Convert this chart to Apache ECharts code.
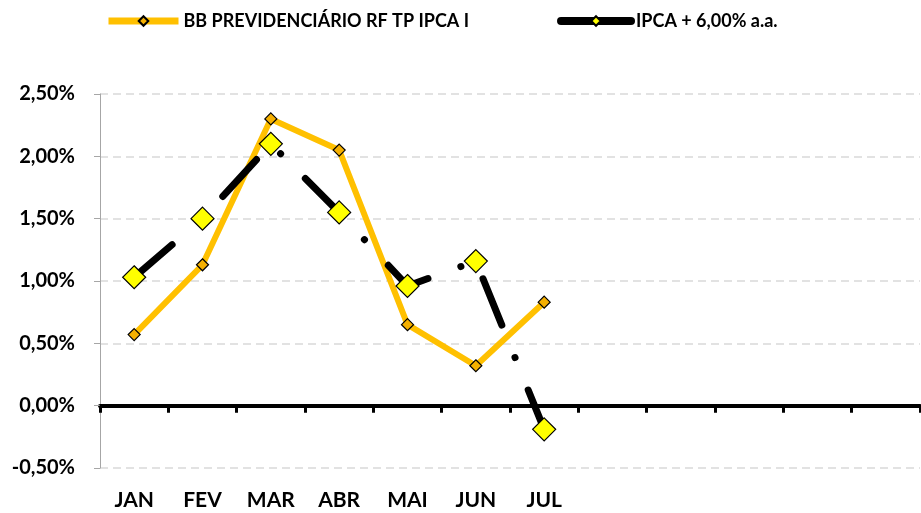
<!DOCTYPE html>
<html>
<head>
<meta charset="utf-8">
<script src="https://cdn.jsdelivr.net/npm/echarts@6/dist/echarts.min.js"></script>
<style>
    html, body { margin: 0; padding: 0; background: #fff; }
    #chart { width: 921px; height: 513px; }
</style>
</head>
<body>
<div id="chart"></div>
<script>
// categorias (12 meses, só os 7 primeiros com rótulo)
var meses = ['JAN', 'FEV', 'MAR', 'ABR', 'MAI', 'JUN', 'JUL', '', '', '', '', ''];
// rentabilidade mensal (%)
var fundo = [0.57, 1.13, 2.30, 2.05, 0.65, 0.32, 0.83];
var benchmark = [1.03, 1.50, 2.10, 1.55, 0.96, 1.16, -0.19];
var nomeFundo = 'BB PREVIDENCIÁRIO RF TP IPCA I';
var nomeBench = 'IPCA + 6,00% a.a.';

var fonte = 'Lato, "Open Sans", sans-serif';
var chart = echarts.init(document.getElementById('chart'));

var option = {
    animation: false,
    textStyle: { fontFamily: fonte },
    legend: {
        top: 7,
        left: 100,
        itemWidth: 70,
        itemHeight: 12,
        itemGap: 88,
        textStyle: { fontFamily: fonte, fontWeight: 'bold', fontSize: 18, color: '#000' },
        data: [
            { name: nomeFundo, lineStyle: { width: 7 } },
            { name: nomeBench, lineStyle: { type: 'solid', width: 8 } }
        ]
    },
    grid: { left: 100, right: 1, top: 94, bottom: 45 },
    xAxis: [{
        type: 'category',
        data: meses,
        boundaryGap: true,
        axisLine: { onZero: true, lineStyle: { color: '#000', width: 4 } },
        axisTick: { show: true, length: 7, lineStyle: { color: '#000', width: 3 } },
        axisLabel: { show: false },
        splitLine: { show: false }
    }, {
        type: 'category',
        data: meses,
        position: 'bottom',
        axisLine: { show: false, onZero: false },
        axisTick: { show: false },
        axisLabel: { margin: 22, fontFamily: fonte, fontWeight: 'bold', fontSize: 21, color: '#000' }
    }],
    yAxis: {
        type: 'value',
        min: -0.5,
        max: 2.5,
        interval: 0.5,
        axisLine: { show: true, lineStyle: { color: '#a6a6a6', width: 1 } },
        axisTick: { show: true, length: 6, lineStyle: { color: '#a6a6a6' } },
        axisLabel: {
            margin: 25,
            fontFamily: fonte,
            fontWeight: 'bold',
            fontSize: 20,
            color: '#000',
            formatter: function (v) { return v.toFixed(2).replace('.', ',') + '%'; }
        },
        splitLine: { show: true, lineStyle: { color: '#d9d9d9', width: 1.5, type: [8, 5] } }
    },
    series: [{
        name: nomeFundo,
        type: 'line',
        xAxisIndex: 0,
        data: fundo,
        symbol: 'diamond',
        symbolSize: 12,
        lineStyle: { color: '#ffc000', width: 6, join: 'round' },
        itemStyle: { color: '#f5b000', borderColor: '#000', borderWidth: 1.2 }
    }, {
        name: nomeBench,
        type: 'line',
        xAxisIndex: 0,
        data: benchmark,
        symbol: 'diamond',
        symbolSize: 23,
        lineStyle: { color: '#000', width: 7, type: [50, 35, 0.1, 35], cap: 'round', join: 'round' },
        itemStyle: { color: '#ffff00', borderColor: '#000', borderWidth: 1.2 }
    }]
};
chart.setOption(option);
</script>
</body>
</html>
